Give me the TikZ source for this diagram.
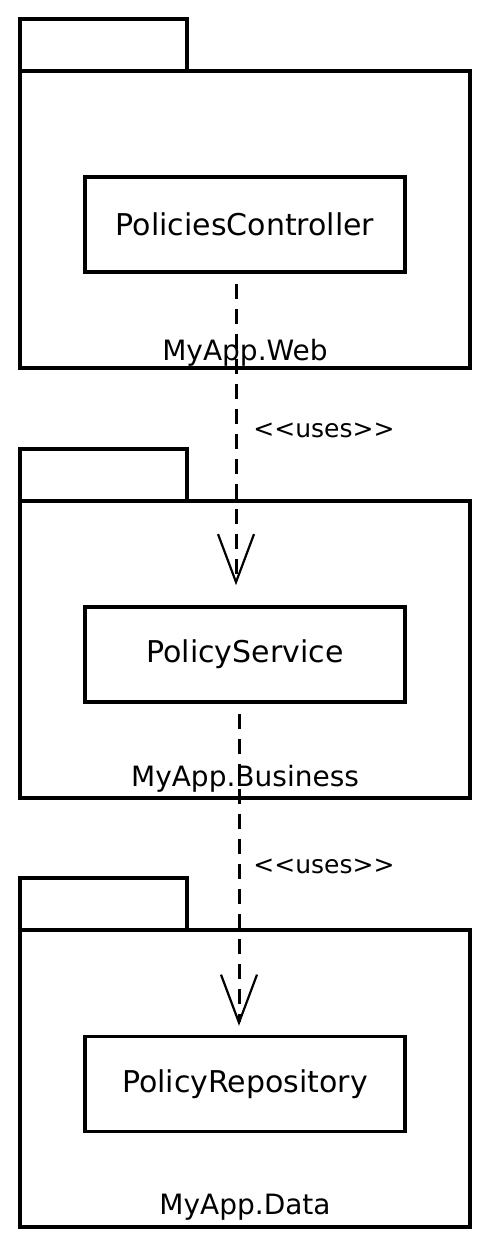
\documentclass[tikz,border=0pt]{standalone}
\usepackage{fontspec}
\setmainfont{DejaVu Sans}
\usetikzlibrary{arrows.meta}
\begin{document}
\begin{tikzpicture}[x=1pt,y=-1pt,
  box/.style={draw=black,line width=4pt,inner sep=0pt,fill=white},
  pkgbody/.style={box,minimum width=450pt,minimum height=297pt},
  pkgtab/.style={box,minimum width=167pt,minimum height=52pt},
  cls/.style={box,line width=3.5pt,minimum width=320pt,minimum height=95pt,font=\fontsize{30}{34}\selectfont},
  pkglabel/.style={anchor=base,inner sep=0pt,font=\fontsize{28}{31}\selectfont},
  uses/.style={dashed,dash pattern=on 15pt off 10pt,line width=3pt,
    -{Straight Barb[length=48pt,width=36pt,line width=2.2pt]}},
  stereo/.style={inner sep=0pt,font=\fontsize{25}{28}\selectfont}]
\useasboundingbox (0,0) rectangle (490,1247);
\fill[white] (0,0) rectangle (490,1247);
% package 1
\node[pkgtab] (tab1) at (103.5,45) {};
\node[pkgbody] (body1) at (245,219.5) {};
\node[cls] (pc) at (245,224.5) {PoliciesController};
% package 2
\node[pkgtab] (tab2) at (103.5,475) {};
\node[pkgbody] (body2) at (245,649.5) {};
\node[cls] (ps) at (245,654.5) {PolicyService};
% package 3
\node[pkgtab] (tab3) at (103.5,904) {};
\node[pkgbody] (body3) at (245,1078.5) {};
\node[cls] (pr) at (245,1084) {PolicyRepository};
% connectors
\draw[uses,shorten <=10pt,shorten >=20pt] ([xshift=-9pt]pc.south) -- ([xshift=-9pt]ps.north);
\draw[uses,shorten <=10pt,shorten >=9pt] ([xshift=-6pt]ps.south) -- ([xshift=-6pt]pr.north);
% labels
\node[pkglabel] (l1) at (245,360) {MyApp.Web};
\node[pkglabel] (l2) at (245,786) {MyApp.Business};
\node[pkglabel] (l3) at (245,1214) {MyApp.Data};
\node[stereo] (s1) at (324,430) {<\kern0pt<uses>\kern0pt>};
\node[stereo] (s2) at (324,866) {<\kern0pt<uses>\kern0pt>};
\end{tikzpicture}
\end{document}
